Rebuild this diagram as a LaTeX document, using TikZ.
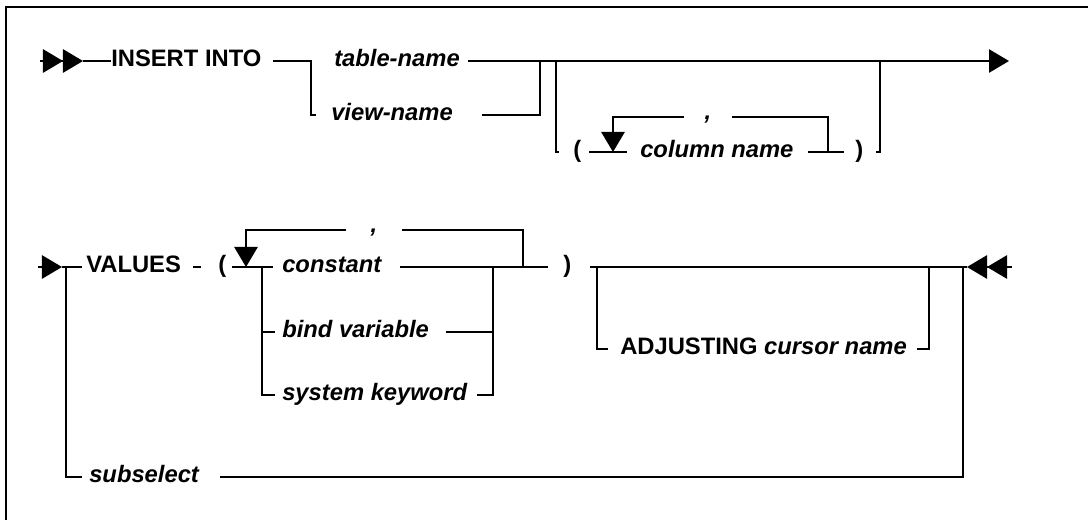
\documentclass[tikz,border=0pt]{standalone}
\usepackage{fontspec}
\setmainfont{Liberation Sans}
\usetikzlibrary{arrows.meta}
\newcommand\railfont{\fontsize{16.9pt}{20pt}\selectfont\bfseries}
\tikzset{
  rail/.style={line width=1.5pt},
  endarrow/.style={-{Triangle[length=0.5cm,width=0.58cm]}},
  dblarrow/.style={-{Triangle[length=0.5cm,width=0.58cm]Triangle[length=0.5cm,width=0.58cm]}},
  kw/.style={font=\railfont, inner sep=0pt, anchor=west, text height=0.72em, text depth=0pt},
  ph/.style={kw, font=\railfont\itshape},
  sepc/.style={font=\railfont\itshape, inner xsep=0.5cm, inner ysep=0pt, text height=0.1cm, text depth=0pt}
}
\begin{document}
\begin{tikzpicture}[x=0.025cm, y=-0.025cm]
\useasboundingbox (0,0) rectangle (1088,520);
\draw[line width=2pt] (6,520) -- (6,7) -- (1088,7);

% first line: INSERT INTO
\node[kw] (ins) at (111,61) {INSERT INTO};
\node[ph] (tbl) at (334,61) {table-name};
\node[ph] (vw) at (331,115) {view-name};
\node[kw] (lp1) at (573,152) {(};
\node[ph] (col) at (640,152) {column name};
\node[kw] (rp1) at (855,152) {)};
\node[sepc] (cm1) at (708,117) {,};

\coordinate (a0) at (40,61);
\coordinate (a1) at (83,61);
\coordinate (a2) at (273,61);
\coordinate (f1) at (311,61);
\coordinate (f1b) at (316,115);
\coordinate (a3) at (468,61);
\coordinate (a4) at (1009,61);
\coordinate (a5) at (482,115);
\coordinate (m1) at (540,61);
\coordinate (o1) at (556,61);
\coordinate (o1b) at (559,152);
\coordinate (c1) at (589,152);
\coordinate (c2) at (627,152);
\coordinate (c3) at (808,152);
\coordinate (c4) at (844,152);
\coordinate (c5) at (876,152);
\coordinate (o1e) at (880,61);
\coordinate (lp) at (613,117);
\coordinate (lq) at (828,117);

\draw[rail, dblarrow] (a0) -- (a1);
\draw[rail] (a1) -- (ins.west);
\draw[rail] (a2) -- (f1) |- (f1b);
\draw[rail, endarrow] (a3) -- (a4);
\draw[rail] (a5) -| (m1);
\draw[rail] (o1) |- (o1b);
\draw[rail] (c1) -- (c2);
\draw[rail] (c3) -- (c4);
\draw[rail] (c5) -| (o1e);
\draw[rail] (lq |- c3) -- (lq) -- (cm1.east);
\draw[rail, endarrow] (cm1.west) -- (lp) -- (lp |- c1);

% second line: VALUES
\node[kw] (val) at (86,267) {VALUES};
\node[kw] (lp2) at (218,267) {(};
\node[ph] (cst) at (282,267) {constant};
\node[ph] (bnd) at (282,332) {bind variable};
\node[ph] (sys) at (282,395) {system keyword};
\node[kw] (rp2) at (563,267) {)};
\node[kw] (adj) at (620,349) {ADJUSTING \textit{cursor name}};
\node[ph] (sub) at (89,477) {subselect};
\node[sepc, inner xsep=0.6cm] (cm2) at (374,230) {,};

\coordinate (b0) at (38,267);
\coordinate (b1) at (62,267);
\coordinate (s2) at (66,267);
\coordinate (b2) at (82,267);
\coordinate (s2b) at (82,477);
\coordinate (b3) at (193,267);
\coordinate (b4) at (201,267);
\coordinate (b5) at (232,267);
\coordinate (f2) at (262,267);
\coordinate (b6) at (273,267);
\coordinate (f2b) at (275,332);
\coordinate (f2c) at (275,395);
\coordinate (b7) at (400,267);
\coordinate (b8) at (548,267);
\coordinate (m2) at (493,267);
\coordinate (b9) at (446,332);
\coordinate (b10) at (477,395);
\coordinate (mp) at (246,230);
\coordinate (mq) at (523,230);
\coordinate (b11) at (590,267);
\coordinate (e2) at (967,267);
\coordinate (e2t) at (1012,267);
\coordinate (o2) at (597,267);
\coordinate (o2b) at (608,349);
\coordinate (b12) at (917,349);
\coordinate (o2e) at (929,267);
\coordinate (b13) at (220,477);
\coordinate (s2e) at (963,267);

\draw[rail, endarrow] (b0) -- (b1);
\draw[rail] (b1) -- (b2);
\draw[rail] (s2) |- (s2b);
\draw[rail] (b3) -- (b4);
\draw[rail] (b5) -- (b6);
\draw[rail] (f2) |- (f2c);
\draw[rail] (f2 |- f2b) -- (f2b);
\draw[rail] (b7) -- (b8);
\draw[rail] (b9) -| (m2);
\draw[rail] (b10) -| (m2);
\draw[rail] (mq |- b8) -- (mq) -- (cm2.east);
\draw[rail, endarrow] (cm2.west) -- (mp) -- (mp |- b6);
\draw[rail] (b11) -- (e2);
\draw[rail, dblarrow] (e2t) -- (e2);
\draw[rail] (o2) |- (o2b);
\draw[rail] (b12) -| (o2e);
\draw[rail] (b13) -| (s2e);
\end{tikzpicture}
\end{document}
